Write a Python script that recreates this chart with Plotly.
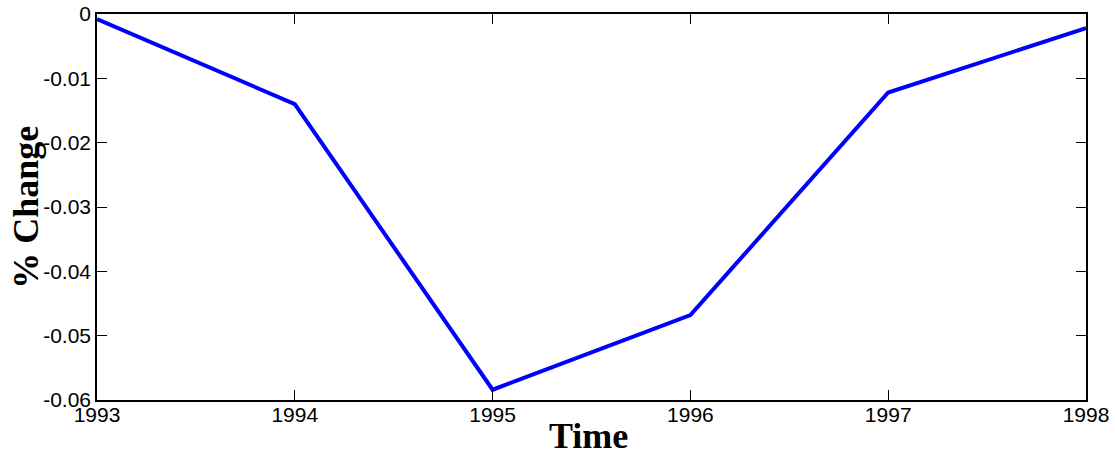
import plotly.graph_objects as go

# Annual percentage change series
years = [1993, 1994, 1995, 1996, 1997, 1998]
pct_change = [-0.0008, -0.0140, -0.0584, -0.0468, -0.0122, -0.0022]

y_ticks = [0, -0.01, -0.02, -0.03, -0.04, -0.05, -0.06]
y_tick_labels = ["0", "-0.01", "-0.02", "-0.03", "-0.04", "-0.05", "-0.06"]

fig = go.Figure()
fig.add_trace(go.Scatter(
    x=years, y=pct_change, mode="lines",
    line=dict(color="#0000FF", width=4),
    showlegend=False,
))

tick_font = dict(family="Liberation Sans, Arial, sans-serif", size=21, color="#000000")
title_font = dict(family="Liberation Serif, Times New Roman, serif", size=36, color="#000000")

fig.update_layout(
    width=1115, height=456,
    margin=dict(l=97, r=29, t=14, b=56),
    paper_bgcolor="white", plot_bgcolor="white",
    xaxis=dict(
        range=[1993, 1998], tickvals=years, ticktext=[str(y) for y in years],
        ticks="inside", ticklen=10, tickcolor="#000000", tickwidth=1,
        showline=True, linecolor="#000000", linewidth=1.5, mirror="ticks",
        showgrid=False, zeroline=False, tickfont=tick_font, automargin=False,
        ticklabelstandoff=-5,
    ),
    yaxis=dict(
        range=[-0.06, 0], tickvals=y_ticks, ticktext=y_tick_labels,
        ticks="inside", ticklen=10, tickcolor="#000000", tickwidth=1,
        showline=True, linecolor="#000000", linewidth=1.5, mirror="ticks",
        showgrid=False, zeroline=False, tickfont=tick_font, automargin=False,
    ),
    annotations=[
        dict(text="<b>Time</b>", xref="paper", yref="paper", x=0.497, y=-0.092,
             xanchor="center", yanchor="middle", showarrow=False, font=title_font),
        dict(text="<b>% Change</b>", xref="paper", yref="paper", x=-0.072, y=0.5,
             xanchor="center", yanchor="middle", showarrow=False, textangle=-90,
             font=title_font),
    ],
)

fig.write_html("out.html")
